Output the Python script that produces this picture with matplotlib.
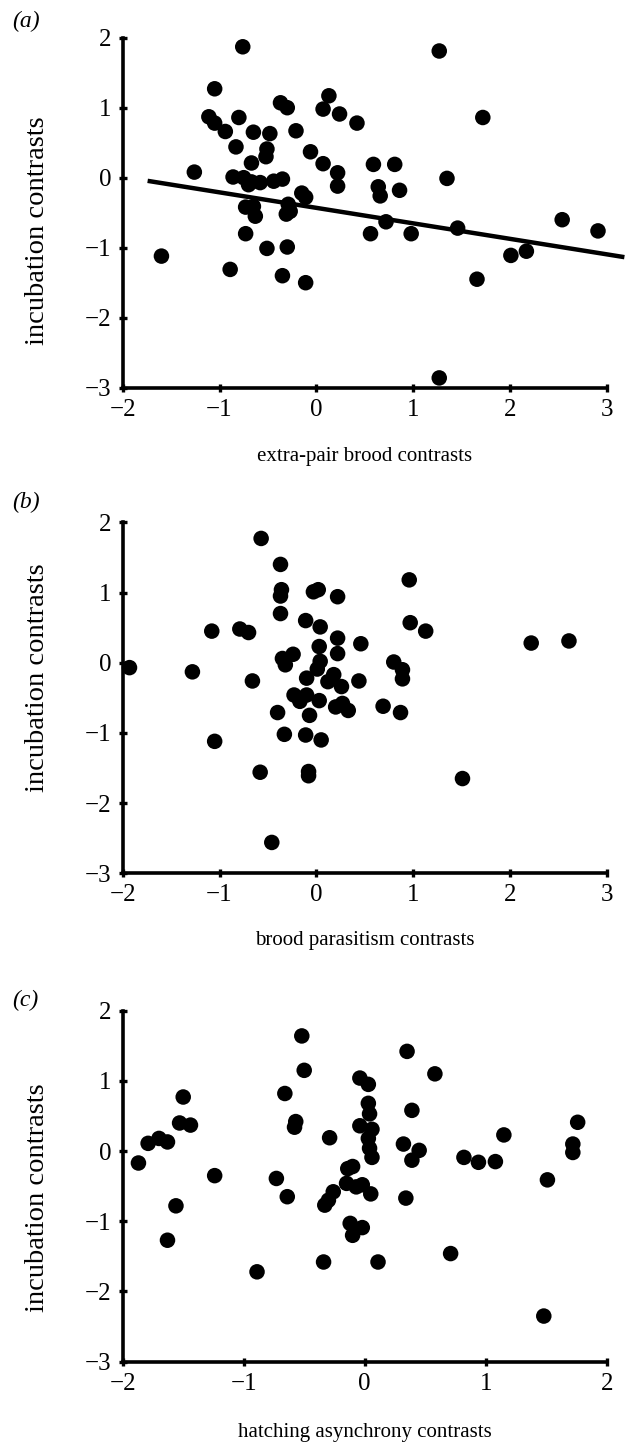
import matplotlib
matplotlib.use("Agg")
import matplotlib.pyplot as plt

plt.rcParams["font.family"] = ["Liberation Serif", "DejaVu Serif"]

# (a) extra-pair brood contrasts vs incubation contrasts
a_x = [-0.76, 1.27, -1.05, -0.37, -0.30, 0.13, 0.07, 0.24, 0.42, 1.72,
       -1.11, -1.05, -0.80, -0.94, -0.65, -0.48, -0.21, -0.83, -0.51, -0.52,
       -0.06, -0.67, 0.07, 0.22, 0.22, 0.59, 0.81, -1.26, -0.86, -0.75,
       -0.67, -0.58, -0.44, -0.35, 1.35, 0.64, 0.66, 0.86, -0.15, -0.11,
       -0.29, -0.27, -0.31, -0.73, -0.65, -0.63, 0.72, 1.46, 0.56, 0.98,
       -0.73, 2.54, 2.91, -1.60, -0.51, -0.30, 2.01, 2.17, -0.89, -0.35,
       -0.11, 1.66, 1.27, -0.70]
a_y = [1.87, 1.81, 1.27, 1.07, 1.00, 1.17, 0.98, 0.91, 0.78, 0.86,
       0.87, 0.78, 0.86, 0.66, 0.65, 0.63, 0.67, 0.44, 0.41, 0.30,
       0.37, 0.21, 0.20, 0.07, -0.12, 0.19, 0.19, 0.08, 0.01, 0.00,
       -0.06, -0.07, -0.05, -0.02, -0.01, -0.13, -0.26, -0.18, -0.22, -0.28,
       -0.38, -0.48, -0.52, -0.42, -0.41, -0.55, -0.63, -0.72, -0.80, -0.80,
       -0.80, -0.60, -0.76, -1.12, -1.01, -0.99, -1.11, -1.05, -1.31, -1.40,
       -1.50, -1.45, -2.86, -0.10]
a_fit_x = [-1.72, 3.16]
a_fit_y = [-0.05, -1.13]

# (b) brood parasitism contrasts vs incubation contrasts
b_x = [-0.57, -0.37, 0.96, -0.36, -0.37, -0.03, 0.02, 0.22, -0.37, -0.11,
       0.04, 0.97, 1.13, -1.08, -0.79, -0.70, 0.22, 0.22, 0.46, 2.22,
       2.61, 0.03, -0.24, -0.35, -0.32, 0.04, 0.01, 0.80, 0.89, 0.89,
       -1.93, -1.28, -0.66, -0.10, 0.18, 0.12, 0.26, 0.44, -0.23, -0.17,
       -0.10, 0.03, 0.20, 0.27, 0.33, 0.69, 0.87, -0.40, -0.07, -0.33,
       -0.11, 0.05, -1.05, -0.58, -0.08, -0.08, 1.51, -0.46]
b_y = [1.77, 1.40, 1.18, 1.04, 0.95, 1.01, 1.04, 0.94, 0.70, 0.60,
       0.51, 0.57, 0.45, 0.45, 0.48, 0.43, 0.35, 0.13, 0.27, 0.28,
       0.31, 0.23, 0.12, 0.06, -0.03, 0.02, -0.09, 0.01, -0.10, -0.23,
       -0.07, -0.13, -0.26, -0.22, -0.17, -0.27, -0.34, -0.26, -0.46, -0.55,
       -0.46, -0.54, -0.63, -0.58, -0.68, -0.62, -0.71, -0.71, -0.75, -1.02,
       -1.03, -1.10, -1.12, -1.56, -1.55, -1.61, -1.65, -2.56]

# (c) hatching asynchrony contrasts vs incubation contrasts
c_x = [-0.52, 0.35, -0.50, 0.58, -0.04, 0.03, -1.50, -0.66, 0.03, 0.04,
       0.39, -1.53, -1.44, -0.57, -0.58, -0.04, 0.06, 1.76, -1.79, -1.70,
       -1.63, -0.29, 0.03, 0.32, 1.15, 1.72, 1.72, 0.04, 0.06, 0.45,
       0.39, -1.87, 0.82, 0.94, 1.08, -1.24, -0.73, -0.10, -0.14, -0.15,
       -0.07, -0.02, 0.05, 1.51, -0.26, -0.30, -0.33, -0.64, 0.34, -1.56,
       -0.12, -0.02, -0.10, -1.63, 0.71, -0.34, 0.11, -0.89, 1.48]
c_y = [1.64, 1.42, 1.15, 1.10, 1.04, 0.95, 0.77, 0.82, 0.68, 0.53,
       0.58, 0.40, 0.37, 0.42, 0.34, 0.36, 0.31, 0.41, 0.11, 0.18,
       0.13, 0.19, 0.18, 0.10, 0.23, 0.10, -0.02, 0.04, -0.09, 0.01,
       -0.13, -0.17, -0.09, -0.16, -0.15, -0.35, -0.39, -0.22, -0.25, -0.46,
       -0.51, -0.48, -0.61, -0.41, -0.58, -0.70, -0.77, -0.65, -0.67, -0.78,
       -1.03, -1.09, -1.20, -1.27, -1.46, -1.58, -1.58, -1.72, -2.35]

panels = [
    ("(a)", a_x, a_y, [-2, -1, 0, 1, 2, 3], "extra-pair brood contrasts"),
    ("(b)", b_x, b_y, [-2, -1, 0, 1, 2, 3], "brood parasitism contrasts"),
    ("(c)", c_x, c_y, [-2, -1, 0, 1, 2], "hatching asynchrony contrasts"),
]
y_ticks = [-3, -2, -1, 0, 1, 2]


def minus(t):
    return "\u2212%d" % -t if t < 0 else str(t)


fig = plt.figure(figsize=(6.28, 14.44), dpi=100)
# axes rectangles in figure fractions (left, bottom, width, height)
rects = [
    (0.1954, 0.7315, 0.7707, 0.2424),
    (0.1954, 0.3952, 0.7707, 0.2431),
    (0.1954, 0.0570, 0.7707, 0.2431),
]
tag_y = [0.985, 0.652, 0.307]
xlab_y = [-0.169, -0.163, -0.175]
ylab_y = [0.448, 0.556, 0.466]

for i, (tag, xs, ys, xt, xlabel) in enumerate(panels):
    ax = fig.add_axes(rects[i])
    ax.scatter(xs, ys, s=125, color="black", edgecolors="none", zorder=3,
               clip_on=False)
    ax.set_xlim(xt[0], xt[-1])
    ax.set_ylim(-3, 2)
    ax.set_xticks(xt)
    ax.set_yticks(y_ticks)
    ax.set_xticklabels([minus(t) for t in xt])
    ax.set_yticklabels([minus(t) for t in y_ticks])
    ax.spines[["top", "right"]].set_visible(False)
    for sp in ("left", "bottom"):
        ax.spines[sp].set_linewidth(2.6)
    ax.tick_params(direction="inout", length=6, width=2.4, labelsize=18, pad=5)
    ax.set_xlabel(xlabel, fontsize=15)
    ax.xaxis.set_label_coords(0.5, xlab_y[i])
    ax.set_ylabel("incubation contrasts", fontsize=20.5)
    ax.yaxis.set_label_coords(-0.150, ylab_y[i])
    fig.text(0.019, tag_y[i], tag, fontsize=17, va="center", ha="left",
             fontstyle="italic")
    if tag == "(a)":
        # regression line runs a little past the end of the x axis
        ax.plot(a_fit_x, a_fit_y, color="black", lw=3.2, zorder=2,
                clip_on=False)

fig.savefig("out.png", dpi=100)
